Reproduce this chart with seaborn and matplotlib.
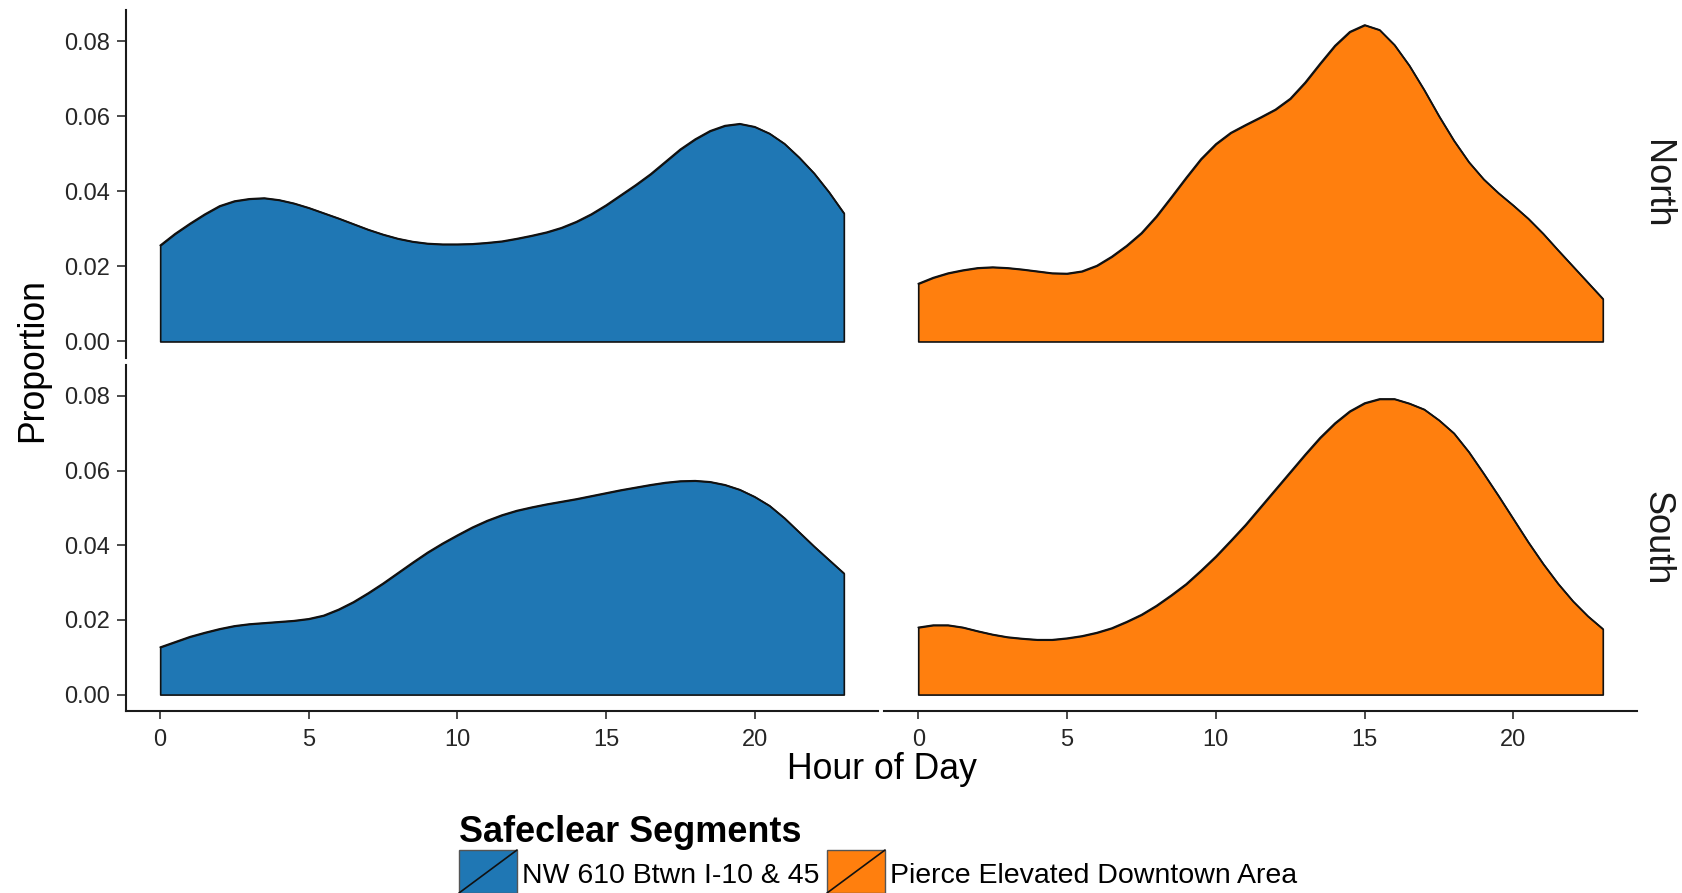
import numpy as np
import pandas as pd
import matplotlib
matplotlib.use("Agg")
import matplotlib.pyplot as plt
import seaborn as sns
from matplotlib.patches import Rectangle
from matplotlib.lines import Line2D

# ---------------- data (every half hour) ----------------
hours = [0, 0.5, 1, 1.5, 2, 2.5, 3, 3.5, 4, 4.5, 5, 5.5, 6, 6.5, 7, 7.5,
         8, 8.5, 9, 9.5, 10, 10.5, 11, 11.5, 12, 12.5, 13, 13.5, 14, 14.5,
         15, 15.5, 16, 16.5, 17, 17.5, 18, 18.5, 19, 19.5, 20, 20.5, 21,
         21.5, 22, 22.5, 23]
nw_north = [0.0256, 0.0287, 0.0314, 0.0339, 0.0361, 0.0374, 0.0380, 0.0382,
            0.0377, 0.0368, 0.0356, 0.0342, 0.0328, 0.0313, 0.0298, 0.0285,
            0.0274, 0.0266, 0.0261, 0.0259, 0.0259, 0.0260, 0.0263, 0.0267,
            0.0274, 0.0282, 0.0291, 0.0303, 0.0319, 0.0339, 0.0363, 0.0390,
            0.0417, 0.0446, 0.0479, 0.0512, 0.0539, 0.0561, 0.0575, 0.0580,
            0.0572, 0.0554, 0.0527, 0.0490, 0.0448, 0.0398, 0.0342]
pierce_north = [0.0154, 0.0170, 0.0182, 0.0190, 0.0196, 0.0198, 0.0196, 0.0192,
                0.0187, 0.0182, 0.0181, 0.0187, 0.0202, 0.0226, 0.0255, 0.0289,
                0.0333, 0.0384, 0.0436, 0.0486, 0.0526, 0.0556, 0.0577, 0.0597,
                0.0618, 0.0647, 0.0690, 0.0740, 0.0788, 0.0825, 0.0843, 0.0830,
                0.0790, 0.0735, 0.0670, 0.0600, 0.0535, 0.0478, 0.0432, 0.0395,
                0.0362, 0.0327, 0.0287, 0.0243, 0.0200, 0.0157, 0.0114]
nw_south = [0.0127, 0.0141, 0.0155, 0.0166, 0.0176, 0.0184, 0.0189, 0.0192,
            0.0195, 0.0198, 0.0203, 0.0212, 0.0228, 0.0248, 0.0272, 0.0298,
            0.0326, 0.0354, 0.0381, 0.0405, 0.0427, 0.0448, 0.0466, 0.0481,
            0.0493, 0.0502, 0.0510, 0.0517, 0.0524, 0.0532, 0.0540, 0.0548,
            0.0555, 0.0562, 0.0568, 0.0572, 0.0573, 0.0570, 0.0562, 0.0549,
            0.0530, 0.0506, 0.0473, 0.0435, 0.0397, 0.0361, 0.0325]
pierce_south = [0.0180, 0.0186, 0.0186, 0.0180, 0.0170, 0.0161, 0.0154, 0.0150,
                0.0147, 0.0147, 0.0151, 0.0157, 0.0166, 0.0178, 0.0195, 0.0214,
                0.0238, 0.0266, 0.0296, 0.0332, 0.0370, 0.0412, 0.0455, 0.0502,
                0.0549, 0.0596, 0.0643, 0.0688, 0.0727, 0.0759, 0.0781, 0.0792,
                0.0792, 0.0780, 0.0764, 0.0735, 0.0700, 0.0650, 0.0592, 0.0532,
                0.0470, 0.0408, 0.0350, 0.0297, 0.0250, 0.0210, 0.0176]

segments = ["NW 610 Btwn I-10 & 45", "Pierce Elevated Downtown Area"]
directions = ["North", "South"]
seg_colors = ["#1f77b4", "#ff7f0e"]
y_ticks = [0.00, 0.02, 0.04, 0.06, 0.08]
x_ticks = [0, 5, 10, 15, 20]
legend_title = "Safeclear Segments"
x_title = "Hour of Day"
y_title = "Proportion"

series = {
    ("North", segments[0]): nw_north,
    ("North", segments[1]): pierce_north,
    ("South", segments[0]): nw_south,
    ("South", segments[1]): pierce_south,
}
frames = []
for (d, s), vals in series.items():
    frames.append(pd.DataFrame({"hour": hours, "proportion": vals,
                                "direction": d, "segment": s}))
df = pd.concat(frames, ignore_index=True)

# ---------------- style ----------------
sns.set_theme(style="ticks")
plt.rcParams["font.family"] = ["Liberation Sans", "DejaVu Sans"]

W, H = 1682, 893
fig = plt.figure(figsize=(W / 100, H / 100), dpi=100)
fig.patch.set_facecolor("white")


def fx(px):
    return px / W


def fy(py):
    return 1 - py / H


panel_x = [(126, 878), (884, 1637)]
panel_y = [(10, 358), (365, 711)]
axis_col = "#1a1a1a"
tick_col = "#262626"

for r, d in enumerate(directions):
    for c, s in enumerate(segments):
        x0, x1 = panel_x[c]
        y0, y1 = panel_y[r]
        ax = fig.add_axes([fx(x0), fy(y1), (x1 - x0) / W, (y1 - y0) / H])
        ax.set_facecolor("white")
        sub = df[(df.direction == d) & (df.segment == s)]
        ax.fill_between(sub.hour, 0, sub.proportion, facecolor=seg_colors[c],
                        edgecolor="#111111", linewidth=1.2, zorder=2)
        sns.lineplot(data=sub, x="hour", y="proportion", color="#111111",
                     linewidth=1.2, ax=ax, zorder=3, legend=False)
        ax.set_xlim(-1.15, 24.15)
        ax.set_ylim(-0.0044, 0.0883)
        ax.set_xlabel("")
        ax.set_ylabel("")
        for sp in ax.spines.values():
            sp.set_visible(False)
        if c == 0:
            ax.spines["left"].set_visible(True)
            ax.spines["left"].set_linewidth(1.5)
            ax.spines["left"].set_color(axis_col)
            ax.set_yticks(y_ticks)
            ax.set_yticklabels([f"{v:.2f}" for v in y_ticks])
            ax.tick_params(axis="y", length=6.5, width=1.1, color=axis_col,
                           pad=5, labelsize=17, labelcolor=tick_col)
        else:
            ax.set_yticks([])
            ax.tick_params(axis="y", left=False, labelleft=False)
        if r == 1:
            ax.spines["bottom"].set_visible(True)
            ax.spines["bottom"].set_linewidth(1.5)
            ax.spines["bottom"].set_color(axis_col)
            ax.set_xticks(x_ticks)
            ax.set_xticklabels([str(v) for v in x_ticks])
            ax.tick_params(axis="x", length=6, width=1.1, color=axis_col,
                           pad=7, labelsize=17, labelcolor=tick_col)
        else:
            ax.set_xticks([])
            ax.tick_params(axis="x", bottom=False, labelbottom=False)

# strip labels
for r, d in enumerate(directions):
    yc = (panel_y[r][0] + panel_y[r][1]) / 2
    fig.text(fx(1657), fy(yc), d, rotation=270, ha="center", va="center",
             fontsize=26, color="#1a1a1a")

# axis titles
fig.text(fx(33), fy(360), y_title, rotation=90, ha="center", va="center",
         fontsize=25.7, color="black")
fig.text(fx(882), fy(779), x_title, ha="center", va="baseline",
         fontsize=25.7, color="black")

# legend
fig.text(fx(459), fy(842), legend_title, ha="left", va="baseline",
         fontsize=25.9, fontweight="bold", color="black")
key_w = 58
key_h = 43
key_top = 850
key_lefts = [459, 827]
text_lefts = [522, 890]
for i, s in enumerate(segments):
    kx = key_lefts[i]
    rect = Rectangle((fx(kx), fy(key_top + key_h)), key_w / W, key_h / H,
                     transform=fig.transFigure, facecolor=seg_colors[i],
                     edgecolor="#555555", linewidth=1.0)
    fig.add_artist(rect)
    diag = Line2D([fx(kx), fx(kx + key_w)], [fy(key_top + key_h), fy(key_top)],
                  transform=fig.transFigure, color="#111111", linewidth=1.2)
    fig.add_artist(diag)
    fig.text(fx(text_lefts[i]), fy(883), s, ha="left", va="baseline",
             fontsize=20.5, color="black")

fig.savefig("out.png", dpi=100, facecolor="white")
